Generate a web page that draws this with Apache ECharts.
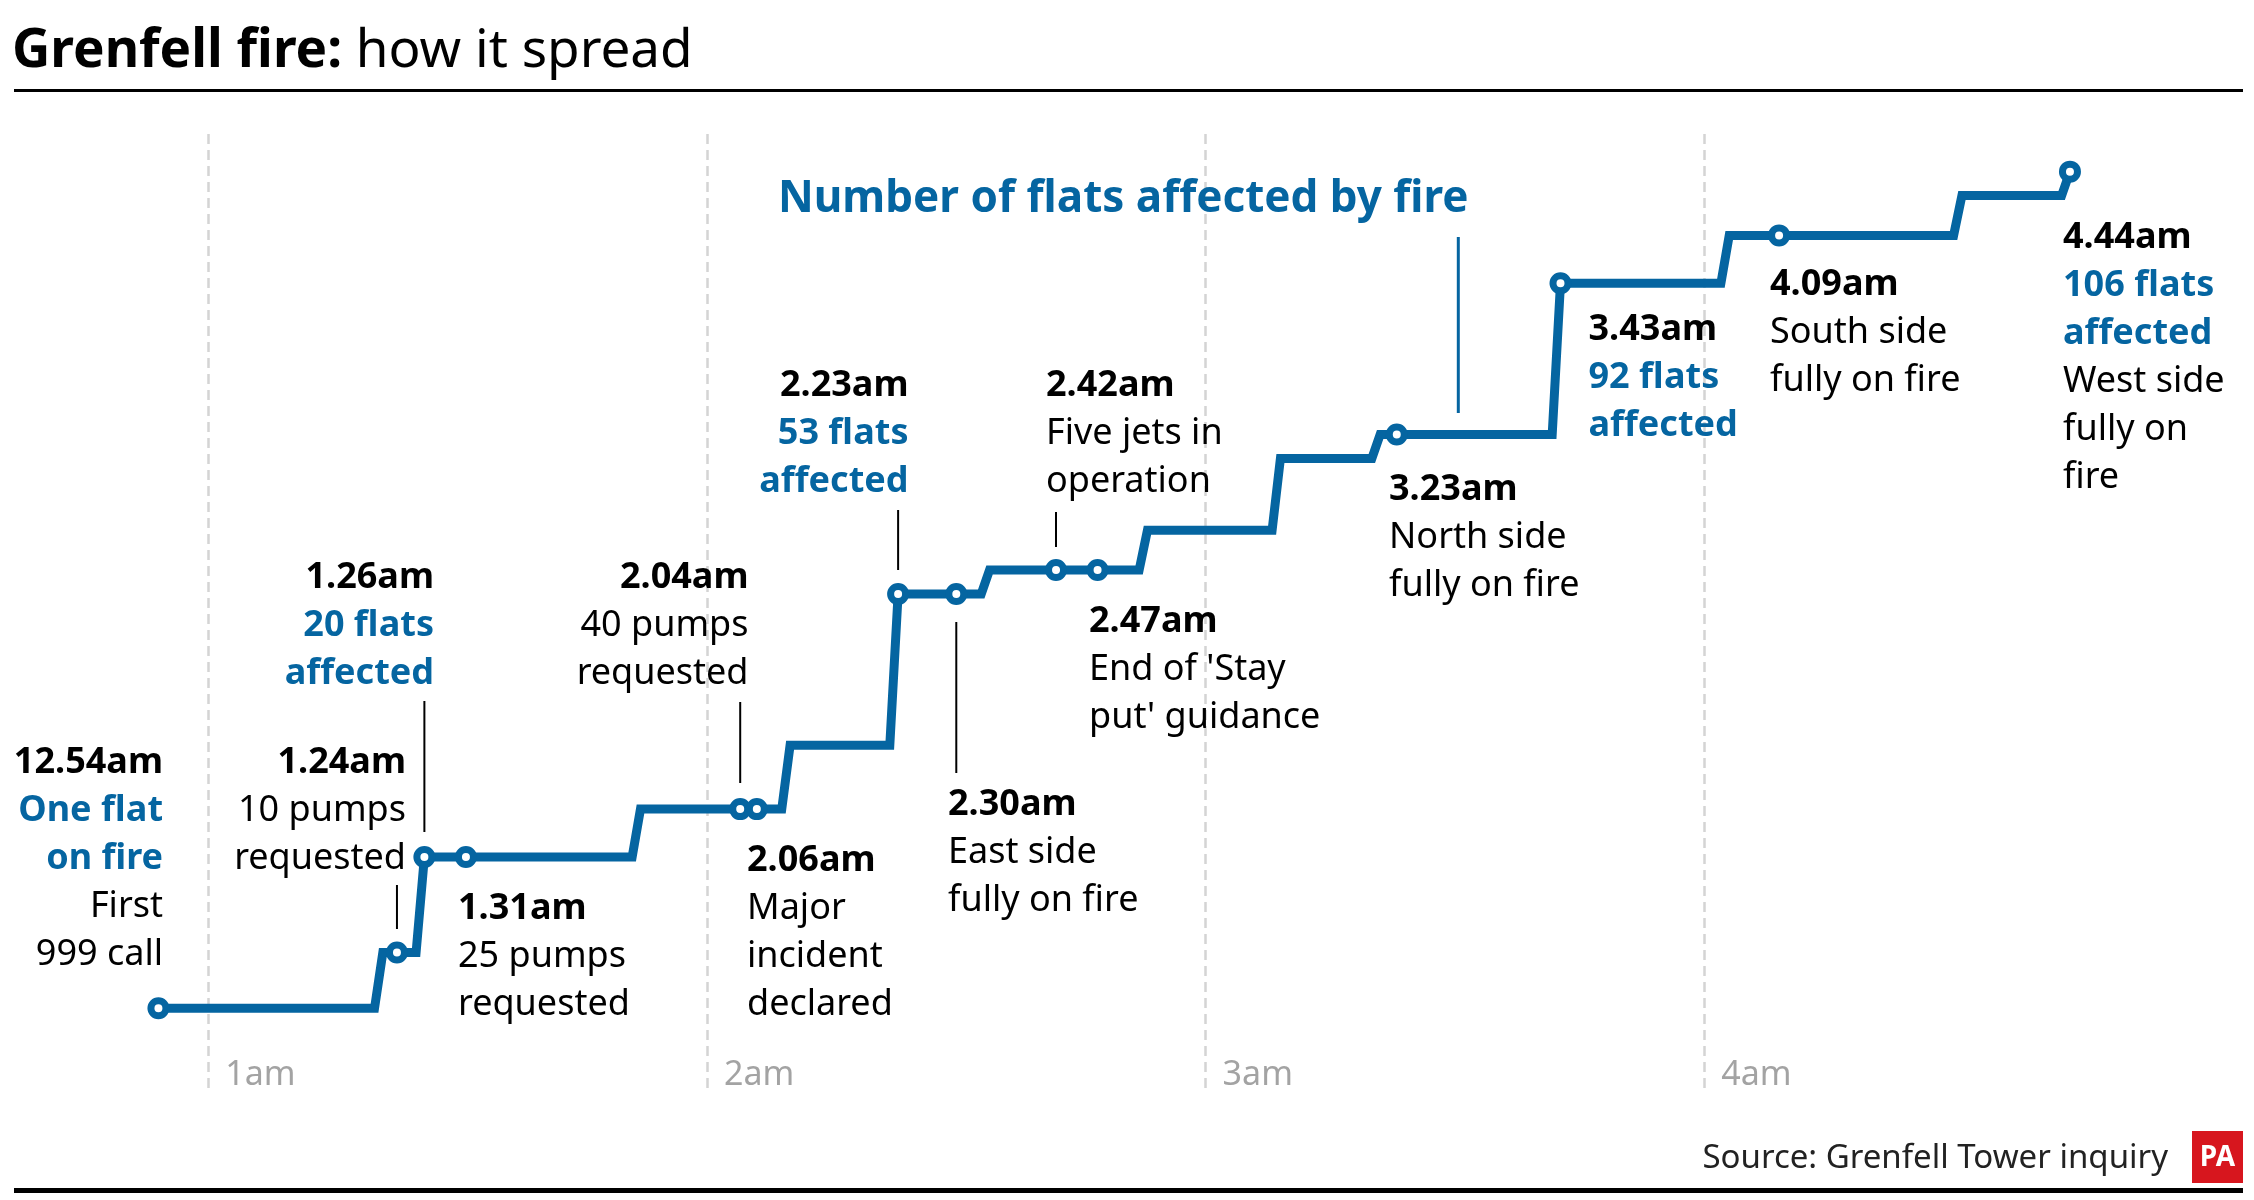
<!DOCTYPE html>
<html><head><meta charset="utf-8">
<script src="https://cdn.jsdelivr.net/npm/echarts@6/dist/echarts.min.js"></script>
<style>html,body{margin:0;padding:0;background:#fff}#c{width:2254px;height:1200px}</style>
</head><body><div id="c"></div>
<script>
// ---- data (minutes after midnight, number of flats affected) ----
const stepTimes = [54,80,81,85,86,111,112,129,130,142,143,153,154,172,173,188,189,200,201,221.7,222.7,242,243,270,271,283,284];
const stepFlats = [1,1,8,8,20,20,26,26,34,34,53,53,56,56,61,61,70,70,73,73,92,92,98,98,103,103,106];

const eventTimes = [54, 82.7, 86, 91, 124, 126, 143, 150, 162, 167, 203, 222.7, 249, 284];
const eventFlats = [1, 8, 20, 20, 26, 26, 53, 53, 56, 56, 73, 92, 98, 106];
const eventClock = ['12.54am','1.24am','1.26am','1.31am','2.04am','2.06am','2.23am','2.30am','2.42am','2.47am','3.23am','3.43am','4.09am','4.44am'];
const eventFlatText = ['One flat\non fire','','20 flats\naffected','','','','53 flats\naffected','','','','','92 flats\naffected','','106 flats\naffected'];
const eventNotes = ['First\n999 call','10 pumps\nrequested','','25 pumps\nrequested','40 pumps\nrequested','Major\nincident\ndeclared','','East side\nfully on fire','Five jets in\noperation',"End of 'Stay\nput' guidance",'North side\nfully on fire','','South side\nfully on fire','West side\nfully on\nfire'];

const tickValues = [60, 120, 180, 240];
const tickLabels = ['1am', '2am', '3am', '4am'];

const chartTitleBold = 'Grenfell fire:';
const chartTitleRest = 'how it spread';
const seriesTitle = 'Number of flats affected by fire';
const sourceText = 'Source: Grenfell Tower inquiry';

// ---- layout / style (not data) ----
const BLUE = '#0565a1';
const FONT = "'Noto Sans', sans-serif";
const X_MIN = 40, X_MAX = 300, Y_MIN = -9, Y_MAX = 111;
// [anchorX, firstLineCenterY, align, leaderTop, leaderBottom]
const annoLayout = [
  [163, 763, 'right', null, null],
  [406, 763, 'right', 885, 929],
  [434, 578, 'right', 701, 832],
  [458, 909, 'left', null, null],
  [748.5, 578, 'right', 702, 783],
  [747, 861, 'left', null, null],
  [908.5, 386, 'right', 510, 570],
  [948, 805, 'left', 622, 773],
  [1046, 386, 'left', 512, 547],
  [1089, 622, 'left', null, null],
  [1389, 490, 'left', null, null],
  [1588.5, 330, 'left', null, null],
  [1770, 285, 'left', null, null],
  [2063, 238, 'left', null, null]
];
const LH = 48;

const chart = echarts.init(document.getElementById('c'), null, {renderer: 'canvas'});

const option = {
  animation: false,
  backgroundColor: '#fff',
  title: {
    text: '{b|' + chartTitleBold + '}{r| ' + chartTitleRest + '}',
    left: 12, top: 20, padding: 0,
    textStyle: {
      rich: {
        b: {fontFamily: FONT, fontSize: 53, fontWeight: 'bold', color: '#000', lineHeight: 64},
        r: {fontFamily: FONT, fontSize: 53, fontWeight: 'normal', color: '#000', lineHeight: 64}
      }
    }
  },
  grid: {left: 42.08, right: 51.06, top: 131.8, bottom: 112},
  xAxis: {type: 'value', min: X_MIN, max: X_MAX, show: false, splitLine: {show: false}},
  yAxis: {type: 'value', min: Y_MIN, max: Y_MAX, show: false, splitLine: {show: false}},
  series: [
    {
      type: 'line', data: stepTimes.map((t, i) => [t, stepFlats[i]]),
      showSymbol: false, symbol: 'none', z: 2,
      lineStyle: {color: BLUE, width: 9, join: 'miter', cap: 'butt'},
      markLine: {
        silent: true, symbol: 'none', animation: false, z: 1,
        label: {show: false},
        lineStyle: {color: '#d4d4d4', width: 2.5, type: [10, 6]},
        data: tickValues.map(v => ({xAxis: v}))
      }
    },
    {
      type: 'scatter', data: eventTimes.map((t, i) => [t, eventFlats[i]]),
      symbol: 'circle', symbolSize: 15, z: 3,
      itemStyle: {color: '#fff', borderColor: BLUE, borderWidth: 7, opacity: 1}
    },
    {
      // hour tick labels, placed with the x scale at the bottom of the plot
      type: 'scatter', data: tickValues.map(v => [v, Y_MIN]), symbolSize: 0, silent: true, z: 1,
      label: {
        show: true, position: 'right', distance: 17, offset: [0, -13],
        color: '#8c8c8c', fontSize: 34, fontFamily: FONT, align: 'left', verticalAlign: 'middle',
        formatter: p => tickLabels[p.dataIndex]
      }
    }
  ]
};
chart.setOption(option);

// ---- annotations ----
const rich = {
  t: {fontFamily: FONT, fontSize: 36, fontWeight: 'bold', fill: '#000', lineHeight: LH},
  h: {fontFamily: FONT, fontSize: 36, fontWeight: 'bold', fill: BLUE, lineHeight: LH},
  n: {fontFamily: FONT, fontSize: 36, fontWeight: 'normal', fill: '#000', lineHeight: LH}
};
const graphics = [];
eventClock.forEach((clock, i) => {
  const [ax, cy, align, lt, lb] = annoLayout[i];
  const lines = ['{t|' + clock + '}'];
  if (eventFlatText[i]) eventFlatText[i].split('\n').forEach(s => lines.push('{h|' + s + '}'));
  if (eventNotes[i]) eventNotes[i].split('\n').forEach(s => lines.push('{n|' + s + '}'));
  const r = {};
  Object.keys(rich).forEach(k => r[k] = Object.assign({align: align}, rich[k]));
  graphics.push({
    type: 'text', x: ax, y: cy - LH / 2, z: 10,
    style: {text: lines.join('\n'), rich: r, align: align, verticalAlign: 'top', font: '36px ' + FONT}
  });
  if (lt !== null) {
    const px = chart.convertToPixel({gridIndex: 0}, [eventTimes[i], eventFlats[i]]);
    graphics.push({type: 'line', z: 9, shape: {x1: px[0], y1: lt, x2: px[0], y2: lb},
      style: {stroke: '#000', lineWidth: 2}});
  }
});
// series title + leader
graphics.push({type: 'text', x: 778, y: 199, z: 10,
  style: {text: seriesTitle, fill: BLUE, font: 'bold 44px ' + FONT, align: 'left', verticalAlign: 'middle'}});
graphics.push({type: 'line', z: 9, shape: {x1: 1458.3, y1: 237, x2: 1458.3, y2: 413},
  style: {stroke: BLUE, lineWidth: 3}});
// rules
graphics.push({type: 'rect', shape: {x: 14, y: 89, width: 2229, height: 3}, style: {fill: '#000'}});
graphics.push({type: 'rect', shape: {x: 14, y: 1188, width: 2229, height: 5}, style: {fill: '#000'}});
// source + PA logo
graphics.push({type: 'text', x: 2168, y: 1159, style: {text: sourceText, fill: '#222', font: '33px ' + FONT, align: 'right', verticalAlign: 'middle'}});
graphics.push({type: 'rect', shape: {x: 2192, y: 1131, width: 51, height: 52}, style: {fill: '#d7161e'}});
graphics.push({type: 'text', x: 2217.5, y: 1158, z: 11, style: {text: 'PA', fill: '#fff', font: 'bold 28px ' + FONT, align: 'center', verticalAlign: 'middle'}});

chart.setOption({graphic: graphics});
</script>
</body></html>
